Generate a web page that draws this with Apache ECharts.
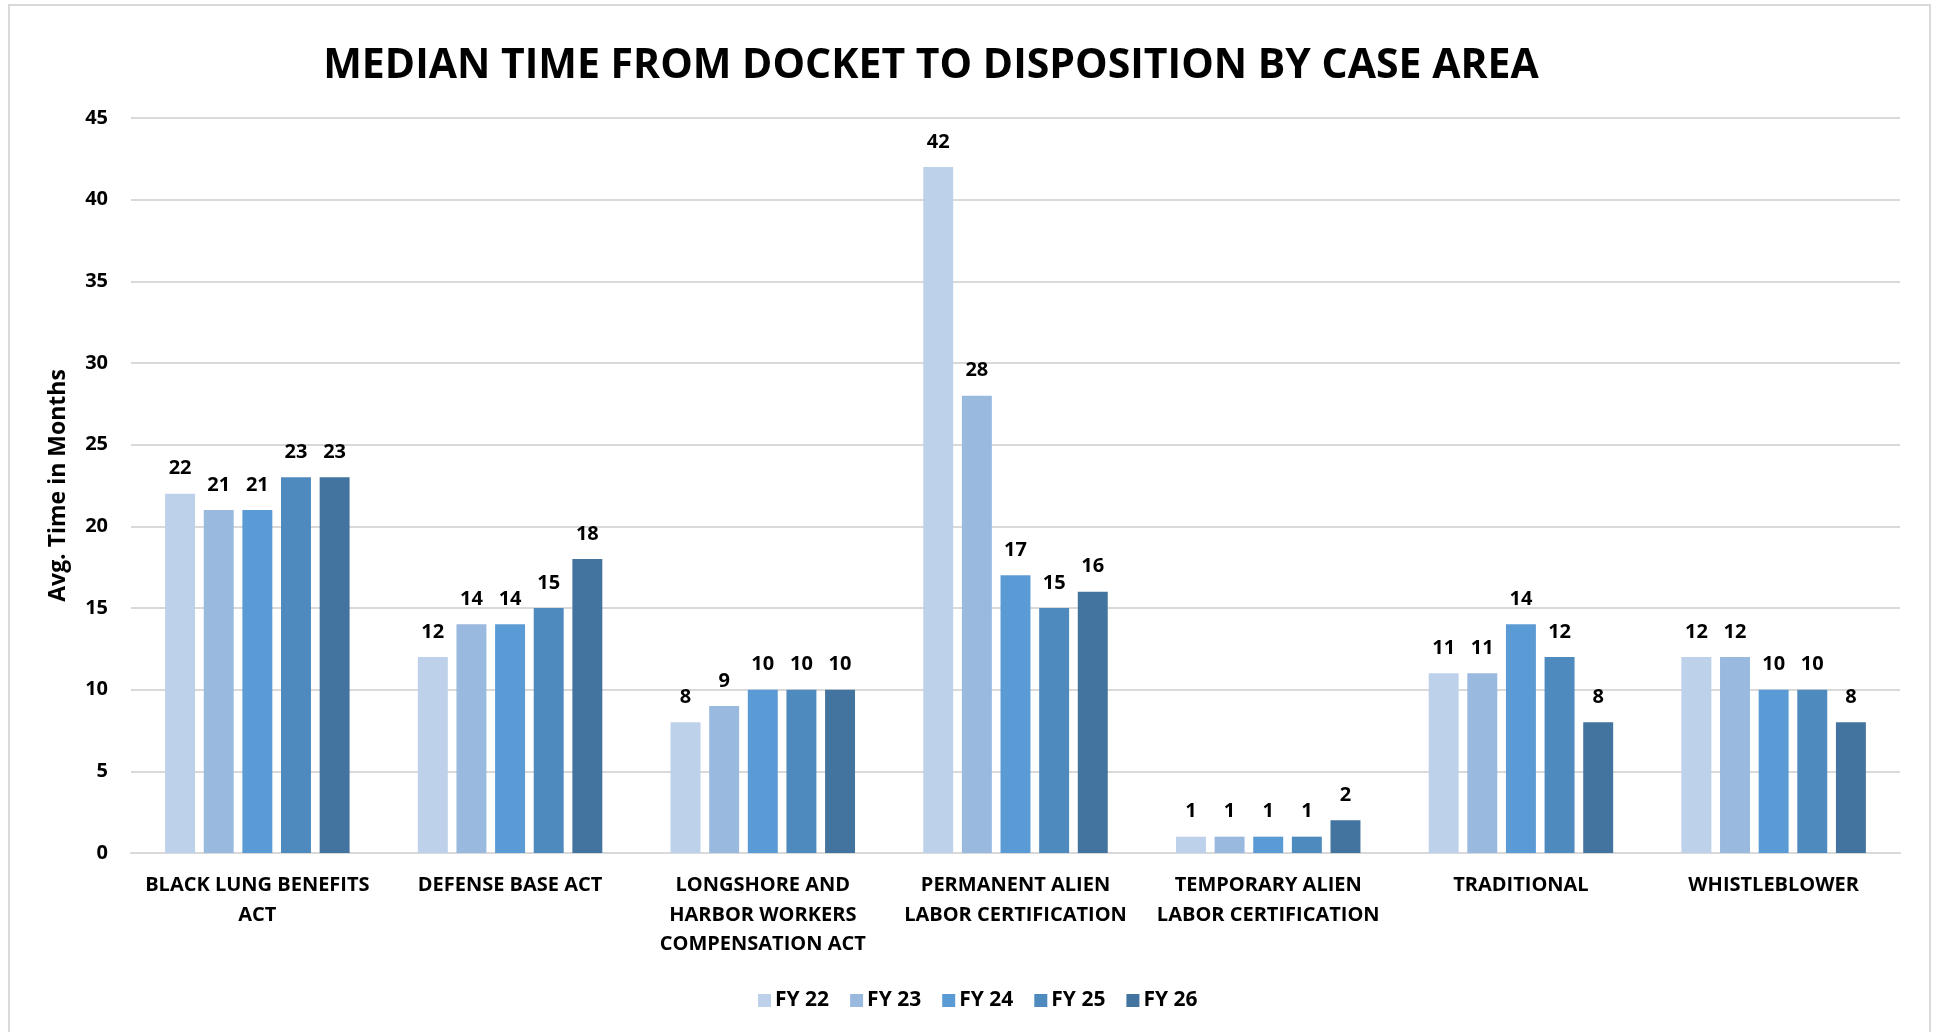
<!DOCTYPE html>
<html>
<head>
<meta charset="utf-8">
<script src="https://cdn.jsdelivr.net/npm/echarts@6/dist/echarts.min.js"></script>
<style>
html,body{margin:0;padding:0;background:#fff;}
#chart{width:1939px;height:1032px;}
</style>
</head>
<body>
<div id="chart"></div>
<script>
const categories = [
  'BLACK LUNG BENEFITS\nACT',
  'DEFENSE BASE ACT',
  'LONGSHORE AND\nHARBOR WORKERS\nCOMPENSATION ACT',
  'PERMANENT ALIEN\nLABOR CERTIFICATION',
  'TEMPORARY ALIEN\nLABOR CERTIFICATION',
  'TRADITIONAL',
  'WHISTLEBLOWER'
];
const seriesNames = ['FY 22', 'FY 23', 'FY 24', 'FY 25', 'FY 26'];
const fy22 = [22, 12, 8, 42, 1, 11, 12];
const fy23 = [21, 14, 9, 28, 1, 11, 12];
const fy24 = [21, 14, 10, 17, 1, 14, 10];
const fy25 = [23, 15, 10, 15, 1, 12, 10];
const fy26 = [23, 18, 10, 16, 2, 8, 8];
const colors = ['#BDD1EA', '#99B9DF', '#5B9BD5', '#4E8ABE', '#43739F'];
const yTicks = [0, 5, 10, 15, 20, 25, 30, 35, 40, 45];

const FONT = "'Open Sans', 'Noto Sans', sans-serif";
const allData = [fy22, fy23, fy24, fy25, fy26];

const chart = echarts.init(document.getElementById('chart'));
chart.setOption({
  backgroundColor: '#fff',
  animation: false,
  color: colors,
  title: {
    text: 'MEDIAN TIME FROM DOCKET TO DISPOSITION BY CASE AREA',
    left: 926,
    top: 41,
    textAlign: 'center',
    textStyle: { fontFamily: FONT, fontWeight: 'bold', fontSize: 41, color: '#000' }
  },
  graphic: [{
    type: 'rect',
    shape: { x: 9, y: 5, width: 1921, height: 1100 },
    style: { fill: 'none', stroke: '#D9D9D9', lineWidth: 2 },
    silent: true
  }],
  legend: {
    data: seriesNames,
    left: 753,
    top: 985,
    itemWidth: 13,
    itemHeight: 13,
    itemGap: 21,
    icon: 'rect',
    textStyle: { fontFamily: FONT, fontWeight: 'bold', fontSize: 21, color: '#000', padding: [0, 0, 0, -1] }
  },
  grid: { left: 131, right: 39, top: 118, bottom: 179, containLabel: false },
  xAxis: {
    type: 'category',
    data: categories,
    axisLine: { show: true, lineStyle: { color: '#D9D9D9', width: 2 } },
    axisTick: { show: false },
    axisLabel: {
      interval: 0,
      margin: 18,
      fontFamily: FONT, fontWeight: 'bold', fontSize: 20, color: '#000',
      lineHeight: 29.5, align: 'center'
    }
  },
  yAxis: {
    type: 'value',
    min: yTicks[0],
    max: yTicks[yTicks.length - 1],
    interval: 5,
    name: 'Avg. Time in Months',
    nameLocation: 'middle',
    nameGap: 61,
    nameRotate: 90,
    nameTextStyle: { fontFamily: FONT, fontWeight: 'bold', fontSize: 23, color: '#000' },
    axisLine: { show: false },
    axisTick: { show: false },
    axisLabel: { margin: 23, fontFamily: FONT, fontWeight: 'bold', fontSize: 20, color: '#000' },
    splitLine: { lineStyle: { color: '#D9D9D9', width: 2 } }
  },
  series: seriesNames.map((name, i) => ({
    name: name,
    type: 'bar',
    data: allData[i],
    barGap: '29%',
    barCategoryGap: '27%',
    itemStyle: { color: colors[i] },
    label: {
      show: true,
      position: 'top',
      distance: 15,
      fontFamily: FONT, fontWeight: 'bold', fontSize: 20, color: '#000'
    }
  }))
});
</script>
</body>
</html>
